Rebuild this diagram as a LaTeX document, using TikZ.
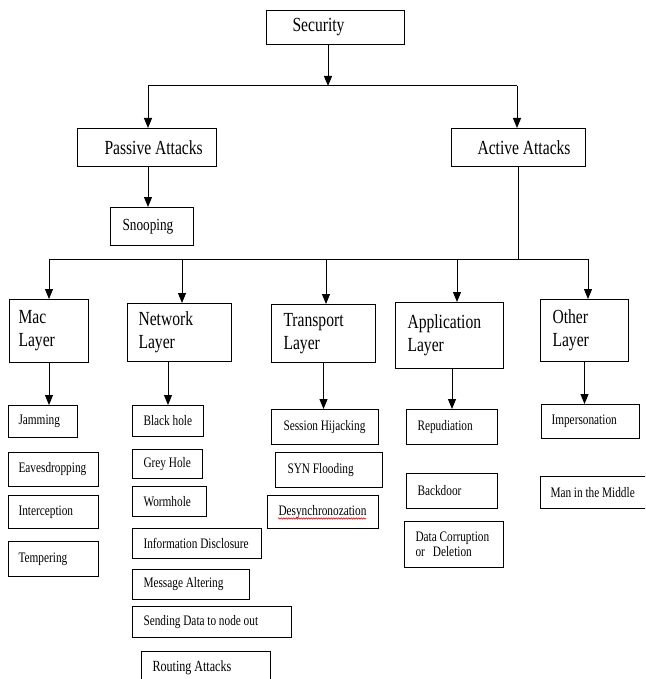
\documentclass[tikz,border=0pt]{standalone}
\usepackage{fontspec}
\setmainfont{Liberation Serif}[FakeStretch=0.78]
\usetikzlibrary{arrows.meta,decorations.pathmorphing}
\newcommand\padl[1]{\hspace*{#1pt}}
\newcommand\ws{\hspace{0.19em}}
\newcommand\fsA{\fontsize{20}{23}\selectfont}
\newcommand\fsB{\fontsize{17}{20}\selectfont}
\newcommand\fsC{\fontsize{14.5}{15}\selectfont}
\newcommand\fsD{\fontsize{15.5}{18}\selectfont}
\begin{document}
\begin{tikzpicture}[x=1pt,y=-1pt,
  bx/.style 2 args={draw, line width=1pt, anchor=north west, minimum width=#1pt, minimum height=#2pt, text width=#1pt, inner xsep=0pt, inner ysep=0pt, align=left},
  arr/.style={line width=1pt, -{Triangle[length=10pt,width=8pt]}},
  ln/.style={line width=1pt}]
\useasboundingbox (0,0) rectangle (645,679);
\clip (0,0) rectangle (645,679);
\fill[white] (0,0) rectangle (645,679);

% top levels
\node[bx={138}{34}, font=\fsA] (security) at (266,10) {\padl{26}Security};
\node[bx={139}{38}, font=\fsA] (passive) at (77,128) {\padl{27}Passive\ws Attacks};
\node[bx={134}{38}, font=\fsA] (active) at (451,128) {\padl{26}Active\ws Attacks};
\node[bx={83}{38}, font=\fsB] (snooping) at (110,207) {\padl{12}Snooping};

% layers
\node[bx={79}{63}, font=\fsA] (mac) at (9,299) {\padl{9}Mac\\\padl{9}Layer};
\node[bx={104}{58}, font=\fsA] (network) at (127,303) {\padl{11}Network\\\padl{11}Layer};
\node[bx={104}{58}, font=\fsA] (transport) at (271,304) {\padl{12}Transport\\\padl{12}Layer};
\node[bx={108}{66}, font=\fsA] (application) at (395,302) {\padl{12}Application\\\padl{12}Layer};
\node[bx={88}{62}, font=\fsA] (other) at (540,299) {\padl{12}Other\\\padl{12}Layer};

% mac children
\node[bx={69}{32}, font=\fsC] (jamming) at (8,405) {\padl{10}Jamming};
\node[bx={90}{34}, font=\fsC] (eaves) at (8,452) {\padl{10}Eavesdropping};
\node[bx={90}{33}, font=\fsC] (interception) at (8,495) {\padl{10}Interception};
\node[bx={90}{35}, font=\fsC] (tempering) at (8,541) {\padl{10}Tempering};

% network children
\node[bx={71}{31}, font=\fsC] (blackhole) at (132,405) {\padl{11}Black\ws hole};
\node[bx={70}{29}, font=\fsC] (greyhole) at (132,449) {\padl{11}Grey\ws Hole};
\node[bx={74}{30}, font=\fsC] (wormhole) at (132,486) {\padl{11}Wormhole};
\node[bx={129}{30}, font=\fsC] (infodisc) at (132,528) {\padl{11}Information\ws Disclosure};
\node[bx={117}{30}, font=\fsC] (msgalt) at (132,569) {\padl{11}Message\ws Altering};
\node[bx={159}{31}, font=\fsC] (sending) at (132,606) {\padl{11}Sending\ws Data\ws to\ws node\ws out};
\node[bx={129}{32}, font=\fsD] (routing) at (141,651) {\padl{11}Routing\ws Attacks};

% transport children
\node[bx={107}{35}, font=\fsC] (session) at (271,409) {\padl{12}Session\ws Hijacking};
\node[bx={107}{35}, font=\fsC] (syn) at (275,452) {\padl{12}SYN\ws Flooding};
\node[bx={111}{33}, font=\fsC] (desync) at (267,495) {\padl{11}Desynchronozation};

% application children
\node[bx={91}{35}, font=\fsC] (repudiation) at (406,409) {\padl{11}Repudiation};
\node[bx={91}{35}, font=\fsC] (backdoor) at (406,473) {\padl{11}Backdoor};
\node[bx={99}{46}, font=\fsC] (datacorr) at (404,521) {\padl{11}Data\ws Corruption\\\padl{11}or\hspace{0.55em}Deletion};

% other children
\node[bx={98}{34}, font=\fsC] (impersonation) at (541,404) {\padl{10}Impersonation};
\node[bx={110}{32}, font=\fsC] (mitm) at (540,476) {\padl{10}Man\ws in\ws the\ws Middle};

% connectors, top part
\coordinate (jtop) at (328,86);
\coordinate (jl) at (148,86);
\coordinate (jr) at (517,86);
\draw[arr] (security.south -| jtop) -- (jtop);
\draw[ln] (jl) -- (jr);
\draw[arr] (jl) -- (jl |- passive.north);
\draw[arr] (jr) -- (jr |- active.north);
\draw[arr] (passive.south -| jl) -- (jl |- snooping.north);

% active to layers
\coordinate (ja) at (518,259);
\coordinate (b1) at (49,259);
\coordinate (b2) at (182,259);
\coordinate (b3) at (326,259);
\coordinate (b4) at (457,259);
\coordinate (b5) at (588,259);
\draw[ln] (active.south -| ja) -- (ja);
\draw[ln] (b1) -- (b5);
\draw[arr] (b1) -- (b1 |- mac.north);
\draw[arr] (b2) -- (b2 |- network.north);
\draw[arr] (b3) -- (b3 |- transport.north);
\draw[arr] (b4) -- (b4 |- application.north);
\draw[arr] (b5) -- (b5 |- other.north);

% layers to first child
\draw[arr] (mac.south) -- (mac.south |- jamming.north);
\draw[arr] (network.south -| blackhole.north) -- (blackhole.north);
\draw[arr] (transport.south) -- (transport.south |- session.north);
\draw[arr] (application.south -| repudiation.north) -- (repudiation.north);
\draw[arr] (other.south) -- (other.south |- impersonation.north);

% spell-check underline
\draw[red, line width=0.6pt, decorate, decoration={snake, amplitude=0.7pt, segment length=2.5pt}]
  ([xshift=11pt,yshift=-6.5pt]desync.west) -- ([xshift=99pt,yshift=-6.5pt]desync.west);
\end{tikzpicture}
\end{document}
